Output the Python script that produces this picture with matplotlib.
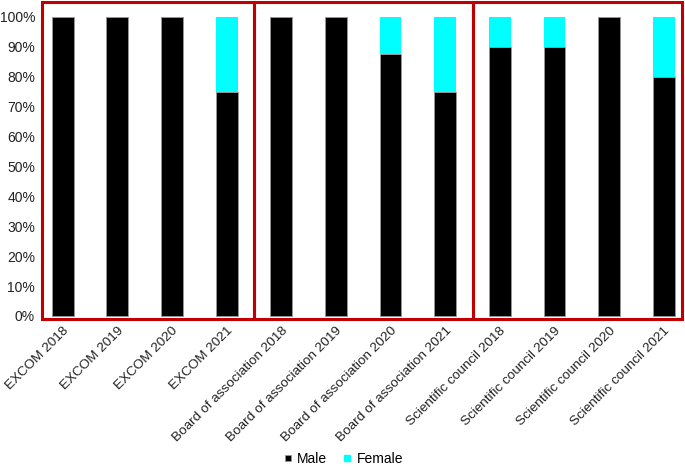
import matplotlib
matplotlib.use("Agg")
import matplotlib.pyplot as plt
from matplotlib.patches import Rectangle
from matplotlib.lines import Line2D

plt.rcParams['font.family'] = ['Liberation Sans', 'DejaVu Sans']

categories = ["EXCOM 2018", "EXCOM 2019", "EXCOM 2020", "EXCOM 2021",
              "Board of association 2018", "Board of association 2019",
              "Board of association 2020", "Board of association 2021",
              "Scientific council 2018", "Scientific council 2019",
              "Scientific council 2020", "Scientific council 2021"]
male = [100, 100, 100, 75, 100, 100, 87.5, 75, 90, 90, 100, 80]
female = [0, 0, 0, 25, 0, 0, 12.5, 25, 10, 10, 0, 20]
yticks = [0, 10, 20, 30, 40, 50, 60, 70, 80, 90, 100]
groups = [(0, 3), (4, 7), (8, 11)]

fig = plt.figure(figsize=(6.85, 4.67), dpi=100)
ax = fig.add_axes([0.0613, 0.317, 0.934, 0.679])

x = list(range(len(categories)))
ax.bar(x, male, width=0.4, color='black', edgecolor='#999999', linewidth=0.6)
ax.bar(x, female, width=0.4, bottom=male, color='#00ffff', edgecolor='#999999', linewidth=0.0)

xmin, xmax = -0.38, 11.33
ymin, ymax = -1, 105
ax.set_xlim(xmin, xmax)
ax.set_ylim(ymin, ymax)

red = '#c00000'
for i, (a, b) in enumerate(groups):
    left = xmin if i == 0 else a - 0.5
    right = xmax if i == len(groups) - 1 else b + 0.5
    ax.add_patch(Rectangle((left, ymin), right - left, ymax - ymin, fill=False,
                           edgecolor=red, linewidth=2.2, clip_on=False, zorder=5))

for s in ax.spines.values():
    s.set_visible(False)

ax.set_yticks(yticks)
ax.set_yticklabels([f"{v}%" for v in yticks], fontsize=10, color='#222222')
ax.set_xticks(x)
ax.set_xticklabels(categories, rotation=45, ha='right', rotation_mode='anchor',
                   fontsize=9.7, color='#222222')
ax.tick_params(axis='y', length=0, pad=5)
ax.tick_params(axis='x', length=0, pad=4)

handles = [Line2D([], [], marker='s', linestyle='none', markersize=5,
                  markerfacecolor='black', markeredgecolor='#999999', markeredgewidth=0.5),
           Line2D([], [], marker='s', linestyle='none', markersize=5,
                  markerfacecolor='#00ffff', markeredgecolor='#00ffff')]
fig.legend(handles, ["Male", "Female"], loc='center', ncol=2, frameon=False,
           bbox_to_anchor=(0.5, 1 - 459 / 467), fontsize=10, handletextpad=0.3,
           columnspacing=1.0, handlelength=0.8, borderpad=0.1)

fig.savefig("out.png", dpi=100)
